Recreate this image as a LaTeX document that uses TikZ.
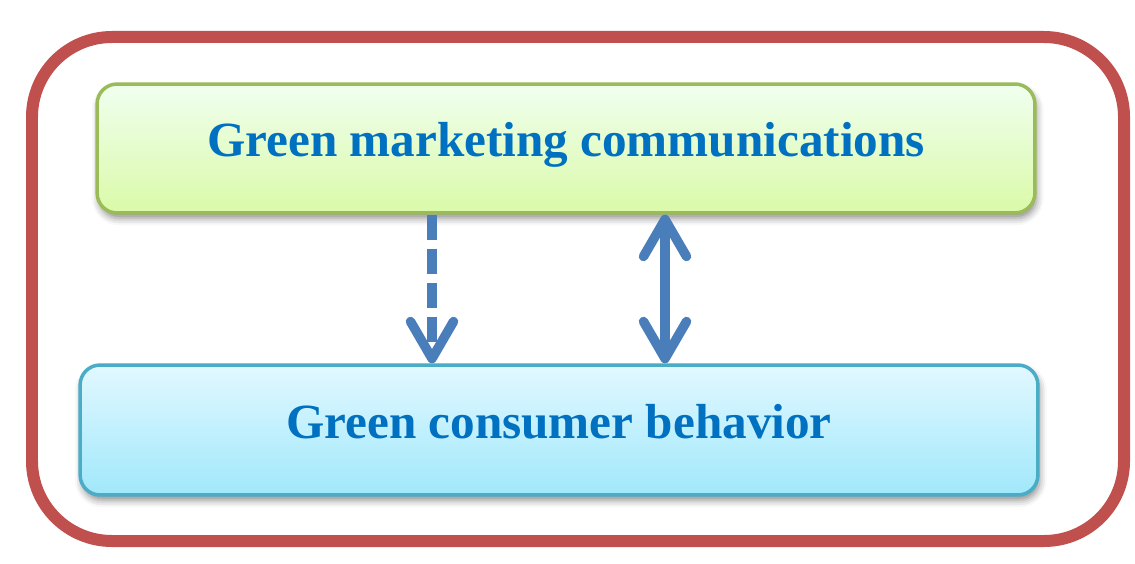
\documentclass[tikz,border=0pt]{standalone}
\usepackage{fontspec}
\setmainfont{Liberation Serif}
\usetikzlibrary{
	arrows.meta,
	calc,
	positioning,
	shadows.blur,
}
\definecolor{frameRed}{HTML}{C0504D}
\definecolor{oliveLine}{HTML}{9BBB59}
\definecolor{aquaLine}{HTML}{4BACC6}
\definecolor{linkBlue}{HTML}{4A7EBB}
\definecolor{textBlue}{HTML}{0070C0}
\tikzset{default box/.style={
	draw,
	rectangle,
	rounded corners=0.4cm,
	line width=0.07cm,
	inner sep=0mm,
	text height=9.6pt,
	text depth=0pt,
	font=\fontsize{28}{30}\selectfont\bfseries,
	text=textBlue,
	blur shadow={shadow xshift=1pt, shadow yshift=-3pt, shadow blur radius=4pt, shadow opacity=45},
}}

\begin{document}
\begin{tikzpicture}[
x=0.02cm, y=-0.02cm,
link/.style={
	linkBlue,
	line width=0.19cm,
	arrows={-Straight Barb[round, length=0.74cm, width=0.86cm]},
}]
\useasboundingbox (0,0) rectangle (1135,564);

\tikzset{
	outer/.style={frameRed, line width=0.24cm, rounded corners=1.6cm},
	marketing/.style={default box, draw=oliveLine, top color=green!6!white, bottom color={rgb,255:red,218;green,250;blue,168}},
	consumer/.style={default box, draw=aquaLine, top color={rgb,255:red,226;green,248;blue,255}, bottom color={rgb,255:red,160;green,232;blue,251}},
}

\draw[outer] (32,37) rectangle (1124,541);

\node(gmc)[marketing, minimum width=18.76cm, minimum height=2.58cm] at(566,148.5) {Green marketing communications};
\node(gcb)[consumer, minimum width=19.16cm, minimum height=2.6cm] at(559,430) {Green consumer behavior};

\coordinate (dashx) at (432,0);
\coordinate (bothx) at (665,0);

\draw[link, dash pattern=on 0.5cm off 0.18cm] (gmc.south -| dashx) -- (gcb.north -| dashx);
\draw[link, arrows={Straight Barb[round, length=0.74cm, width=0.86cm]-Straight Barb[round, length=0.74cm, width=0.86cm]}] (gmc.south -| bothx) -- (gcb.north -| bothx);

\end{tikzpicture}
\end{document}
